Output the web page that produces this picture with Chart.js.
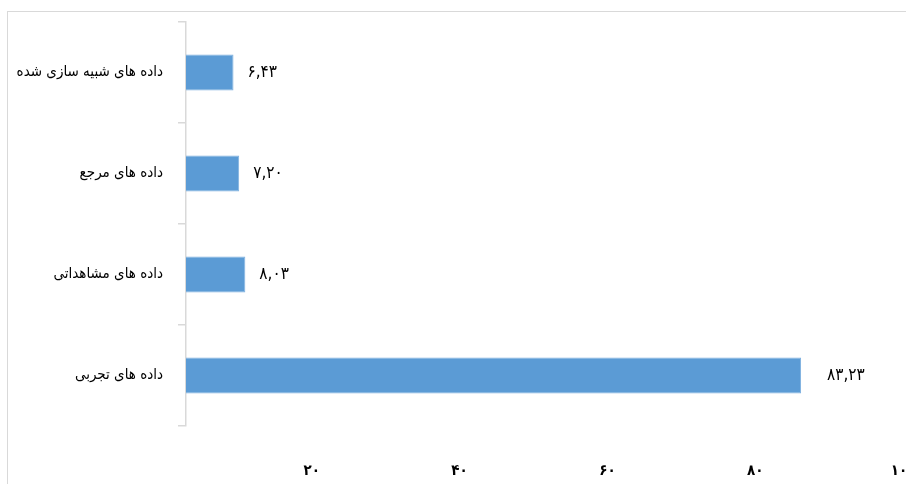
<!DOCTYPE html>
<html>
<head>
<meta charset="utf-8">
<script src="https://cdn.jsdelivr.net/npm/chart.js@4.4.0/dist/chart.umd.min.js"></script>
<style>
  html, body { margin: 0; padding: 0; background: #ffffff; overflow: hidden; width: 906px; height: 484px; }
  #wrap { position: relative; width: 940px; height: 484px; }
  #frame { position: absolute; left: 7px; top: 11px; width: 940px; height: 480px;
           border-left: 1.5px solid #d9d9d9; border-top: 1.5px solid #d9d9d9; pointer-events: none; }
  canvas { position: absolute; left: 0; top: 0; }
</style>
</head>
<body>
<div id="wrap">
  <div id="frame"></div>
  <canvas id="c" width="940" height="484"></canvas>
</div>
<script>
// Categories (top to bottom)
const categories = ['داده های شبیه سازی شده', 'داده های مرجع', 'داده های مشاهداتی', 'داده های تجربی'];
// Series values (percent)
const values = [6.43, 7.20, 8.03, 83.23];
// X-axis tick values and labels
const xTickValues = [0, 20, 40, 60, 80, 100];
const xTickLabels = ['', '۲۰', '۴۰', '۶۰', '۸۰', '۱۰۰'];

const faDigits = ['۰','۱','۲','۳','۴','۵','۶','۷','۸','۹'];
function toFa(v) {
  return v.toFixed(2).replace('.', ',').replace(/[0-9]/g, d => faDigits[+d]);
}

const FONT = '"DejaVu Sans Condensed", "DejaVu Sans", sans-serif';

const dataLabelPlugin = {
  id: 'dataLabels',
  afterDatasetsDraw(chart) {
    const ctx = chart.ctx;
    const meta = chart.getDatasetMeta(0);
    ctx.save();
    ctx.fillStyle = '#000000';
    ctx.font = '17px ' + FONT;
    ctx.textAlign = 'left';
    ctx.textBaseline = 'middle';
    meta.data.forEach((el, i) => {
      const off = i === values.length - 1 ? 26 : 14;
      ctx.fillText(toFa(values[i]), el.x + off, el.y);
    });
    ctx.restore();
  }
};

new Chart(document.getElementById('c'), {
  type: 'bar',
  data: {
    labels: categories,
    datasets: [{
      data: values,
      backgroundColor: '#5B9BD5',
      borderColor: '#7FB1E0',
      borderWidth: 1,
      categoryPercentage: 1,
      barPercentage: 0.356
    }]
  },
  options: {
    indexAxis: 'y',
    responsive: false,
    animation: false,
    layout: { padding: { left: 0, top: 22, right: 15, bottom: 0 } },
    plugins: { legend: { display: false }, tooltip: { enabled: false } },
    scales: {
      x: {
        min: 0, max: 100,
        afterBuildTicks(scale) { scale.ticks = xTickValues.map(v => ({ value: v })); },
        afterFit(scale) { scale.height = 58; scale.paddingLeft = 0; scale.paddingRight = 0; },
        grid: { display: false, drawTicks: false },
        border: { display: false },
        ticks: {
          color: '#000000',
          font: { family: FONT, size: 15, weight: 'bold' },
          padding: 36,
          labelOffset: -22,
          maxRotation: 0,
          callback: (v, i) => xTickLabels[i]
        }
      },
      y: {
        afterFit(scale) { scale.width = 186; scale.paddingTop = 0; scale.paddingBottom = 0; },
        grid: { display: true, drawOnChartArea: false, drawTicks: true, tickLength: 8, color: '#d9d9d9', lineWidth: 1.5, offset: true },
        border: { display: true, color: '#d9d9d9', width: 1.5 },
        ticks: {
          color: '#000000',
          font: { family: FONT, size: 15 },
          padding: 15
        }
      }
    }
  },
  plugins: [dataLabelPlugin]
});
</script>
</body>
</html>
